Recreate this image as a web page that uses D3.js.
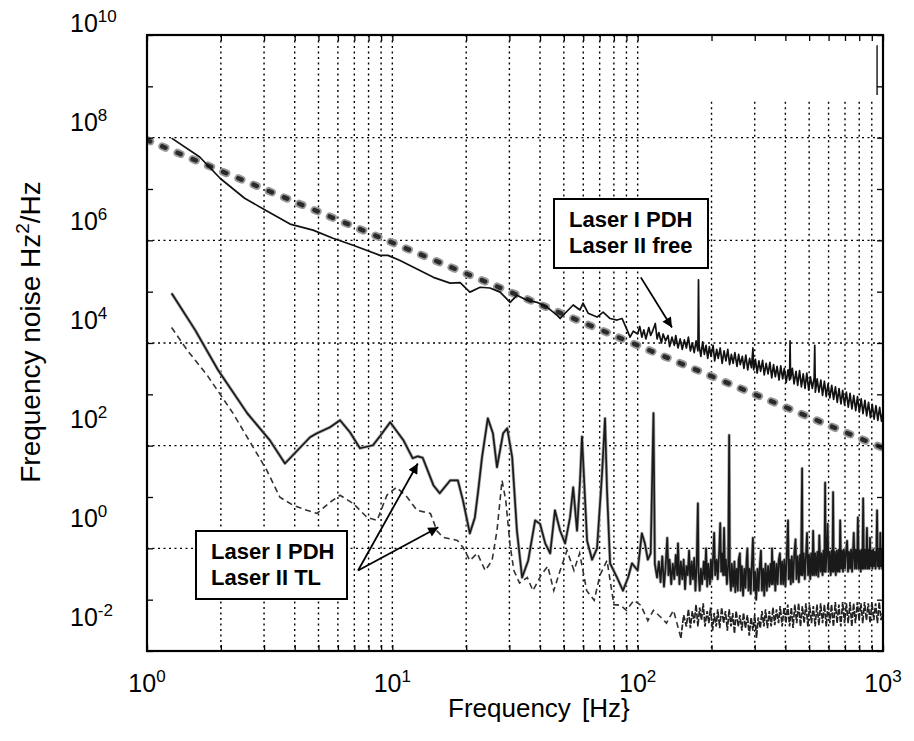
<!DOCTYPE html>
<html>
<head>
<meta charset="utf-8">
<script src="https://cdn.jsdelivr.net/npm/d3@7"></script>
<style>
body{margin:0;background:#fff}
svg text{font-family:"Liberation Sans",Arial,sans-serif;fill:#000}
</style>
</head>
<body>
<script>
// reference 1/f^2 line (thick dashed)
var refLine = [[1, 9e7], [1000, 90]]

// Laser I PDH, Laser II free
var freeNoise = [
  [1.26, 9.8e7], [1.64, 4.2e7], [1.99, 1.6e7], [2.5, 6.6e6], [3.03, 3.9e6], [3.83, 2.07e6],
  [4.75, 1.58e6], [5.73, 1.1e6], [6.92, 8.0e5], [8.91, 5.1e5], [9.6, 5.1e5], [10.7, 4.1e5],
  [14.7, 1.9e5], [17.2, 1.47e5], [18.9, 1.5e5], [20.7, 9.8e4], [22.8, 1.22e5], [25.0, 1.18e5],
  [27.5, 9.8e4], [28.8, 7.8e4], [30.2, 6.2e4], [32.2, 8.5e4], [35.4, 6.8e4], [38.9, 6.2e4],
  [42.7, 5.0e4], [46.9, 3.5e4], [48.3, 3.0e4], [50.6, 3.8e4], [54.6, 5.5e4], [58.2, 4.4e4],
  [59.9, 6.0e4], [62.8, 3.8e4], [68.3, 3.2e4], [72.3, 4.0e4], [77.2, 3.0e4], [82.4, 2.8e4],
  [86.4, 3.0e4], [90.6, 1.78e4], [93.1, 1.3e4], [96, 1.7e4],
  [100, 1.5e4], [102, 2.1e4], [104, 1.3e4], [106, 1.8e4], [108, 1.2e4], [111, 2.0e4],
  [113, 1.4e4], [115, 1.7e4], [118, 2.4e4], [120, 1.2e4], [122, 1.6e4], [125, 1.0e4],
  [127, 1.5e4], [130, 1.1e4], [133, 1.4e4], [135, 8.5e3], [138, 1.3e4], [141, 9e3],
  [143, 1.4e4], [146, 8e3], [149, 1.2e4], [152, 7.5e3], [155, 1.15e4], [158, 8e3],
  [161, 1.3e4], [164, 7e3], [167, 1.0e4], [170, 6.5e3], [173, 1.1e4], [176, 7e3],
  [177, 1.7e5], [178, 9e3], [181, 5.5e3], [184, 1.05e4], [187, 6e3], [190, 9e3],
  [193, 5e3], [196, 8.5e3], [199, 5.5e3], [203, 9e3], [206, 4.5e3], [210, 7.5e3],
  [213, 5e3], [217, 8e3], [221, 4e3], [225, 7e3], [229, 4.5e3], [233, 7.5e3],
  [237, 3.8e3], [241, 6e3], [245, 4e3], [249, 6.5e3], [254, 3.5e3], [258, 6e3],
  [262, 3.8e3], [267, 5.5e3], [271, 3.2e3], [276, 5.8e3], [281, 3e3], [286, 5e3],
  [291, 3.3e3], [295, 8e3], [297, 3e3], [302, 4.8e3], [307, 2.6e3], [312, 4.5e3],
  [317, 2.8e3], [323, 4.6e3], [328, 2.4e3], [334, 4e3], [340, 2.5e3], [346, 4.2e3],
  [352, 2.1e3], [358, 3.8e3], [364, 2.2e3], [370, 3.5e3], [377, 1.9e3], [383, 3.6e3],
  [390, 2e3], [396, 3.2e3], [403, 1.7e3], [410, 3e3], [416, 1.9e3], [418, 1.1e4],
  [420, 2e3], [427, 3.2e3], [434, 1.6e3], [442, 2.8e3], [449, 1.5e3], [457, 2.9e3],
  [465, 1.4e3], [473, 2.5e3], [481, 1.3e3], [489, 2.6e3], [498, 1.2e3], [506, 2.2e3],
  [515, 1.3e3], [524, 2.1e3], [527, 9e3], [530, 1.1e3], [539, 2e3], [548, 1.1e3],
  [558, 1.9e3], [567, 950], [577, 1.8e3], [587, 900], [597, 1.6e3], [607, 850],
  [618, 1.5e3], [629, 800], [640, 1.4e3], [651, 700], [662, 1.3e3], [674, 650],
  [685, 1.2e3], [697, 620], [709, 1.1e3], [722, 560], [734, 1.05e3], [747, 520],
  [760, 950], [774, 480], [787, 900], [801, 450], [815, 820], [829, 420],
  [844, 760], [858, 380], [873, 700], [889, 350], [904, 640], [920, 330],
  [936, 600], [953, 310], [969, 560], [986, 300], [1000, 450]
]

// Laser I PDH, Laser II TL (solid)
var tlSolid = [
  [1.26, 9.3e4], [1.57, 1.8e4], [1.95, 2.95e3], [2.56, 430], [3.17, 127], [3.65, 45],
  [4.62, 146], [4.93, 175], [5.57, 229], [6.12, 313], [6.72, 182], [7.38, 89],
  [8.34, 102], [8.9, 152], [9.8, 286], [11.1, 127], [12.1, 57], [12.7, 62],
  [13.3, 58], [14.7, 17], [15.6, 11.8], [17.2, 21], [18.5, 21], [19.4, 8.6],
  [20.7, 1.96], [21.7, 4.0], [22.4, 13.5], [23.2, 59], [24.5, 342], [25.7, 175],
  [26.7, 38], [28.3, 175], [29.4, 218], [30.8, 59], [32.2, 2.2], [33.8, 0.27],
  [35.8, 0.58], [38.2, 3.5], [40.0, 3.0], [42.0, 1.25], [44.0, 0.8], [46.0, 5.5],
  [48.3, 2.2], [50.6, 1.25], [53.0, 4.0], [54.6, 15.5], [56.6, 2.2], [58.2, 20],
  [59.3, 150], [60.3, 29], [62.2, 1.4], [65.2, 0.6], [68.3, 1.0], [71.6, 29],
  [73.6, 340], [75.0, 13.5], [77.2, 0.51], [82.4, 0.27], [87.1, 0.15], [91.4, 0.27],
  [94.8, 0.51], [100, 0.37], [104, 1.96], [107, 1.25], [110, 0.6], [113, 0.8],
  [116, 429], [117.5, 0.5], [120, 0.27], [122, 0.55], [124, 0.22], [126, 0.7],
  [128, 0.18], [130, 0.45], [132, 1.6], [133.5, 0.3], [135, 0.6], [137, 0.2],
  [139, 0.5], [141, 0.25], [143, 0.75], [145, 0.3], [146, 1.25], [148, 0.2],
  [150, 0.55], [152, 0.25], [154, 0.6], [156, 0.16], [158, 0.45], [160, 0.3],
  [162, 0.9], [164, 0.2], [166, 0.55], [168, 0.25], [170, 0.65], [172, 0.15],
  [174, 0.5], [176, 7.5], [177, 0.35], [179, 0.15], [181, 0.4], [183, 0.2],
  [186, 0.55], [188, 0.25], [190, 1.0], [192, 0.18], [194, 0.5], [197, 0.2],
  [199, 0.6], [201, 0.25], [203, 0.7], [205, 2.0], [207, 0.3], [210, 0.6],
  [212, 0.25], [215, 0.9], [217, 3.1], [219, 0.35], [221, 0.8], [223, 0.3],
  [225, 2.5], [227, 0.3], [229, 0.6], [231, 0.2], [234, 0.5], [236, 160],
  [237.5, 0.3], [240, 0.15], [242, 0.5], [245, 0.18], [248, 0.55], [250, 0.14],
  [253, 0.4], [256, 0.15], [258, 0.6], [261, 0.8], [263, 0.15], [266, 0.45],
  [269, 0.12], [272, 0.4], [275, 0.17], [278, 0.6], [280, 1.0], [283, 0.15],
  [286, 0.4], [289, 0.13], [292, 0.5], [295, 1.6], [298, 0.15], [301, 0.35],
  [304, 0.1], [308, 0.4], [311, 0.15], [315, 0.5], [318, 0.9], [321, 0.15],
  [325, 0.4], [328, 0.12], [332, 0.5], [336, 0.15], [340, 0.45], [344, 0.18],
  [348, 0.5], [351, 0.2], [353, 1.0], [356, 0.2], [360, 0.55], [364, 0.15],
  [368, 0.5], [372, 0.2], [376, 0.6], [380, 0.8], [384, 0.2], [388, 0.55],
  [392, 0.2], [396, 0.6], [400, 0.18], [405, 0.7], [410, 3.5], [413, 0.25],
  [417, 0.6], [421, 0.2], [425, 0.7], [430, 0.22], [435, 0.8], [440, 1.5],
  [444, 0.25], [449, 0.7], [454, 0.22], [459, 0.75], [463, 0.3], [468, 36],
  [470, 0.3], [475, 0.8], [480, 0.25], [485, 0.7], [490, 2.0], [495, 0.3],
  [500, 0.75], [505, 0.25], [510, 0.8], [515, 0.3], [519, 2.2], [524, 0.3],
  [529, 0.8], [534, 0.3], [540, 0.85], [545, 0.28], [550, 1.8], [556, 0.35],
  [561, 0.8], [567, 0.3], [572, 0.9], [577, 0.35], [581, 19], [584, 0.35],
  [590, 0.85], [595, 3.0], [600, 0.35], [606, 0.85], [612, 0.3], [618, 0.9],
  [622, 0.35], [626, 12.4], [630, 0.35], [636, 0.85], [642, 0.3], [648, 0.9],
  [654, 0.35], [660, 0.95], [665, 0.35], [669, 3.5], [675, 0.4], [681, 0.9],
  [687, 0.35], [693, 0.95], [700, 0.4], [707, 0.9], [714, 1.4], [720, 0.35],
  [727, 0.85], [734, 0.4], [741, 0.95], [748, 0.35], [755, 0.9], [760, 2.0],
  [767, 0.4], [774, 0.95], [781, 0.4], [786, 0.85], [790, 4.0], [797, 0.4],
  [804, 0.9], [811, 0.35], [818, 0.95], [824, 0.4], [830, 9.4], [836, 0.4],
  [843, 0.95], [850, 0.4], [856, 0.85], [860, 2.5], [866, 0.4], [873, 0.95],
  [880, 0.4], [885, 1.6], [891, 0.45], [898, 0.9], [905, 0.4], [912, 0.95],
  [919, 0.45], [926, 0.85], [933, 0.4], [940, 0.95], [946, 5.5], [952, 0.45],
  [959, 0.9], [966, 0.4], [972, 0.85], [975, 2.0], [981, 0.45], [988, 0.9],
  [994, 0.4], [1000, 0.7]
]

// Laser I PDH, Laser II TL (dashed), low-frequency part
var tlDashedLow = [
  [1.26, 2.0e4], [1.46, 7.2e3], [1.76, 2.35e3], [2.24, 430], [2.71, 93], [3.08, 33],
  [3.48, 9.9], [3.94, 6.9], [4.49, 5.5], [4.93, 4.8], [5.57, 7.9], [6.12, 10.8],
  [6.92, 7.5], [7.89, 4.0], [8.67, 3.5], [9.5, 10.8], [10.4, 15.5], [11.5, 9.9],
  [12.6, 5.5], [14.3, 4.8], [15.2, 2.2], [16.1, 1.64], [18.4, 1.43], [19.4, 1.05],
  [20.7, 0.58], [22.2, 0.8], [23.9, 0.37], [25.5, 0.58], [26.7, 2.2], [28, 21],
  [29, 8.6], [30.2, 1.14], [31.3, 0.37], [33, 0.21], [35.5, 0.27], [37.4, 0.15],
  [40.4, 0.3], [43, 0.45], [45.5, 0.15], [48.3, 0.37], [51.5, 0.91], [55, 0.37],
  [58, 0.8], [62, 0.15], [66.5, 0.097], [70.2, 0.3], [75, 0.58], [80, 0.08],
  [85, 0.078], [90, 0.062], [96.5, 0.097], [103, 0.078], [110, 0.039], [116, 0.062],
  [124, 0.046], [131, 0.035], [140, 0.062], [150, 0.018]
]

// same trace above 150 Hz, where it turns into a dense band
var tlDashedHigh = [
  [150, 0.018], [154, 0.05], [158, 0.03], [161, 0.065], [164, 0.028], [167, 0.06],
  [170, 0.035], [173, 0.08], [176, 0.03], [179, 0.07], [182, 0.04], [185, 0.085],
  [188, 0.03], [192, 0.06], [195, 0.035], [198, 0.07], [202, 0.025], [205, 0.055],
  [209, 0.03], [212, 0.065], [216, 0.028], [220, 0.07], [224, 0.035], [228, 0.06],
  [232, 0.025], [236, 0.065], [240, 0.03], [244, 0.055], [248, 0.022], [252, 0.06],
  [257, 0.03], [261, 0.05], [266, 0.025], [270, 0.055], [275, 0.028], [280, 0.05],
  [285, 0.02], [290, 0.045], [295, 0.025], [300, 0.05], [305, 0.018], [310, 0.045],
  [316, 0.028], [321, 0.06], [327, 0.03], [332, 0.065], [338, 0.028], [344, 0.06],
  [350, 0.03], [356, 0.07], [362, 0.032], [368, 0.065], [375, 0.035], [381, 0.075],
  [388, 0.03], [395, 0.07], [402, 0.035], [409, 0.08], [416, 0.03], [423, 0.07],
  [430, 0.028], [437, 0.08], [445, 0.035], [453, 0.085], [461, 0.03], [469, 0.075],
  [477, 0.035], [485, 0.085], [494, 0.03], [502, 0.08], [511, 0.035], [520, 0.075],
  [529, 0.03], [538, 0.08], [548, 0.032], [557, 0.085], [567, 0.035], [577, 0.08],
  [587, 0.03], [597, 0.085], [607, 0.035], [617, 0.08], [628, 0.03], [639, 0.09],
  [650, 0.035], [661, 0.08], [673, 0.03], [685, 0.09], [697, 0.035], [709, 0.085],
  [721, 0.035], [734, 0.09], [746, 0.03], [759, 0.085], [772, 0.035], [786, 0.09],
  [799, 0.04], [813, 0.085], [827, 0.035], [841, 0.09], [856, 0.04], [871, 0.085],
  [886, 0.035], [901, 0.09], [917, 0.04], [933, 0.085], [949, 0.035], [965, 0.09],
  [982, 0.04], [1000, 0.06]
]

// short stray trace near the top right corner
var edgeMark = [[946, 6.3e9], [946, 6.8e8]]

var yGrid = [1e0, 1e2, 1e4, 1e6, 1e8]
var yLabelExp = [-2, 0, 2, 4, 6, 8, 10]
var xLabelExp = [0, 1, 2, 3]
var yDecades = [1e-2, 1e-1, 1e0, 1e1, 1e2, 1e3, 1e4, 1e5, 1e6, 1e7, 1e8, 1e9, 1e10]

var W = 914, H = 741
var pLeft = 147, pRight = 883, pTop = 35, pBottom = 651

var svg = d3.select("body").append("svg")
  .attr("width", W)
  .attr("height", H)

var x = d3.scaleLog().domain([1, 1000]).range([pLeft, pRight])
var y = d3.scaleLog().domain([1e-2, 1e10]).range([pBottom, pTop])
// the printed y labels sit on a slightly tighter spacing than the grid
var yLabelPos = d3.scaleLinear().domain([-2, 10]).range([626, 32])

var defs = svg.append("defs")
defs.append("clipPath").attr("id", "plotClip")
  .append("rect")
  .attr("x", pLeft).attr("y", pTop)
  .attr("width", pRight - pLeft).attr("height", pBottom - pTop)

defs.append("marker")
  .attr("id", "head")
  .attr("viewBox", "0 0 10 10")
  .attr("refX", 10).attr("refY", 5)
  .attr("markerWidth", 14).attr("markerHeight", 10)
  .attr("markerUnits", "userSpaceOnUse")
  .attr("orient", "auto")
  .append("path").attr("d", "M0,0 L10,5 L0,10 Z").attr("fill", "#000")

// grid
var grid = svg.append("g").attr("id", "siatka")
var xGrid = x.ticks().filter(function(d){ return d > 1 && d < 1000 })
grid.selectAll("line.v").data(xGrid).enter().append("line")
  .attr("class", "v")
  .attr("x1", function(d){ return x(d) })
  .attr("x2", function(d){ return x(d) })
  .attr("y1", function(d){ return d > 100 ? y(5e8) : pTop })
  .attr("y2", pBottom)
  .attr("stroke", "#000")
  .attr("stroke-width", 1.4)
  .attr("stroke-dasharray", "2,3.5")
grid.selectAll("line.h").data(yGrid).enter().append("line")
  .attr("class", "h")
  .attr("x1", pLeft)
  .attr("x2", pRight)
  .attr("y1", function(d){ return y(d) })
  .attr("y2", function(d){ return y(d) })
  .attr("stroke", "#000")
  .attr("stroke-width", 1.4)
  .attr("stroke-dasharray", "2,3.5")

var line = d3.line()
  .x(function(d){ return x(d[0]) })
  .y(function(d){ return y(d[1]) })

var plot = svg.append("g").attr("clip-path", "url(#plotClip)")

plot.append("path").datum(refLine)
  .attr("d", line)
  .attr("fill", "none")
  .attr("stroke", "#9a9a9a")
  .attr("stroke-width", 8)
  .attr("stroke-linecap", "round")
  .attr("stroke-dasharray", "3.5,13")
plot.append("path").datum(refLine)
  .attr("d", line)
  .attr("fill", "none")
  .attr("stroke", "#2a2a2a")
  .attr("stroke-width", 4.5)
  .attr("stroke-linecap", "round")
  .attr("stroke-dasharray", "3.5,13")

plot.append("path").datum(tlDashedLow)
  .attr("d", line)
  .attr("fill", "none")
  .attr("stroke", "#333")
  .attr("stroke-width", 1.6)
  .attr("stroke-dasharray", "6,4")
plot.append("path").datum(tlDashedHigh)
  .attr("d", line)
  .attr("fill", "none")
  .attr("stroke", "#222")
  .attr("stroke-width", 1.7)
  .attr("stroke-dasharray", "6,1.5")

plot.append("path").datum(tlSolid)
  .attr("d", line)
  .attr("fill", "none")
  .attr("stroke", "#aaa")
  .attr("stroke-width", 3.2)
  .attr("stroke-linejoin", "round")
plot.append("path").datum(tlSolid)
  .attr("d", line)
  .attr("fill", "none")
  .attr("stroke", "#1a1a1a")
  .attr("stroke-width", 1.7)
  .attr("stroke-linejoin", "round")

plot.append("path").datum(freeNoise)
  .attr("d", line)
  .attr("fill", "none")
  .attr("stroke", "#111")
  .attr("stroke-width", 1.7)
  .attr("stroke-linejoin", "round")

plot.append("path").datum(edgeMark)
  .attr("d", line)
  .attr("fill", "none")
  .attr("stroke", "#222")
  .attr("stroke-width", 1.5)

// axes (inward ticks only)
function tidy(g) {
  g.select(".domain").remove()
  g.selectAll("line").attr("stroke", "#000").attr("stroke-width", 1.3)
}
svg.append("g").attr("transform", "translate(" + pLeft + ",0)")
  .call(d3.axisLeft(y).tickValues(yDecades).tickSizeInner(-6).tickSizeOuter(0).tickFormat(""))
  .call(tidy)
svg.append("g").attr("transform", "translate(" + pRight + ",0)")
  .call(d3.axisRight(y).tickValues(yDecades).tickSizeInner(-6).tickSizeOuter(0).tickFormat(""))
  .call(tidy)
svg.append("g").attr("transform", "translate(0," + pBottom + ")")
  .call(d3.axisBottom(x).tickValues(x.ticks()).tickSizeInner(-6).tickSizeOuter(0).tickFormat(""))
  .call(tidy)
svg.append("g").attr("transform", "translate(0," + pTop + ")")
  .call(d3.axisTop(x).tickValues(x.ticks()).tickSizeInner(-6).tickSizeOuter(0).tickFormat(""))
  .call(tidy)

svg.append("rect")
  .attr("x", pLeft).attr("y", pTop)
  .attr("width", pRight - pLeft).attr("height", pBottom - pTop)
  .attr("fill", "none")
  .attr("stroke", "#000")
  .attr("stroke-width", 2.2)

// tick labels
var yLab = svg.append("g").selectAll("text").data(yLabelExp).enter().append("text")
  .attr("x", 70)
  .attr("y", function(d){ return yLabelPos(d) })
  .style("font-size", "25px")
yLab.append("tspan").text("10")
yLab.append("tspan").attr("dy", -10).style("font-size", "17px").text(function(d){ return d })

var xLab = svg.append("g").selectAll("text").data(xLabelExp).enter().append("text")
  .attr("x", function(d){ return x(Math.pow(10, d)) })
  .attr("y", 692)
  .attr("text-anchor", "middle")
  .style("font-size", "25px")
xLab.append("tspan").text("10")
xLab.append("tspan").attr("dy", -10).style("font-size", "17px").text(function(d){ return d })

// axis titles
var xTitle = svg.append("text")
  .attr("y", 717)
  .style("font-size", "26px")
xTitle.append("tspan").attr("x", 448).text("Frequency")
xTitle.append("tspan").attr("x", 582).text("[Hz}")

var yTitle = svg.append("text")
  .attr("transform", "translate(40,332) rotate(-90)")
  .attr("text-anchor", "middle")
  .style("font-size", "28px")
yTitle.append("tspan").text("Frequency noise Hz")
yTitle.append("tspan").attr("dy", -11).style("font-size", "19px").text("2")
yTitle.append("tspan").attr("dy", 11).text("/Hz")

// annotations
function box(bx, by, bw, bh, lines) {
  var g = svg.append("g")
  g.append("rect")
    .attr("x", bx).attr("y", by).attr("width", bw).attr("height", bh)
    .attr("fill", "#fff").attr("stroke", "#000").attr("stroke-width", 2)
  g.selectAll("text").data(lines).enter().append("text")
    .attr("x", bx + 15)
    .attr("y", function(d, i){ return by + 28 + i * 26 })
    .style("font-weight", 700)
    .style("font-size", "22px")
    .text(function(d){ return d })
}
box(554, 199, 154, 69, ["Laser I PDH", "Laser II free"])
box(196, 531, 151, 68, ["Laser I PDH", "Laser II TL"])

var arrows = [
  [[103, 1.9e5], [138, 2.0e4]],
  [[7.25, 0.37], [12.7, 45]],
  [[7.25, 0.37], [15.4, 2.57]]
]
svg.append("g").selectAll("line").data(arrows).enter().append("line")
  .attr("x1", function(d){ return x(d[0][0]) })
  .attr("y1", function(d){ return y(d[0][1]) })
  .attr("x2", function(d){ return x(d[1][0]) })
  .attr("y2", function(d){ return y(d[1][1]) })
  .attr("stroke", "#000")
  .attr("stroke-width", 1.8)
  .attr("marker-end", "url(#head)")
</script>
</body>
</html>
